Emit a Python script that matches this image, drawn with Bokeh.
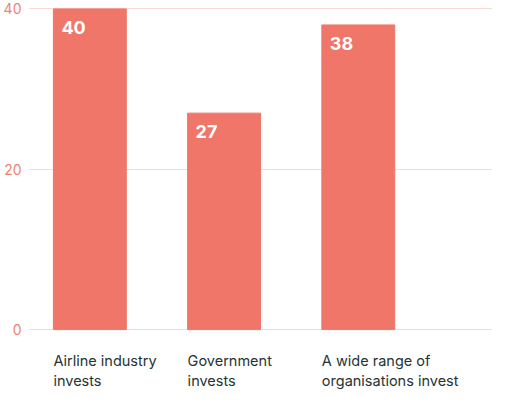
from bokeh.plotting import figure
from bokeh.models import ColumnDataSource, FixedTicker
from bokeh.core.properties import value
from bokeh.embed import file_html
from bokeh.resources import INLINE

# data
categories = ["Airline industry\ninvests", "Government\ninvests",
              "A wide range of\norganisations invest"]
values = [40, 27, 38]
y_ticks = [0, 20, 40]

bar_color = "#ef7669"
bar_w = 0.543
pos = list(range(len(categories)))

source = ColumnDataSource(dict(
    x=pos,
    left=[i - bar_w / 2 for i in pos],
    top=values,
    label=[str(v) for v in values],
    line1=[c.split("\n")[0] for c in categories],
    line2=[c.split("\n")[1] for c in categories],
))

p = figure(width=492, height=390, x_range=(-0.457, 3.0), y_range=(-7.6, 41.05),
           x_axis_type=None, toolbar_location=None, output_backend="svg",
           min_border_left=23, min_border_right=0, min_border_top=0, min_border_bottom=0)
p.outline_line_color = None
p.background_fill_color = "white"
p.border_fill_color = "white"

p.vbar(x="x", top="top", bottom=0, width=bar_w, source=source,
       fill_color=bar_color, line_color=bar_color)

# value labels inside bars
p.text(x="left", y="top", text="label", source=source, x_offset=8, y_offset=12,
       text_color="white", text_font=value("Inter"), text_font_style="bold",
       text_font_size="18px", text_baseline="top", text_align="left")

# category labels under bars, two lines each
cat_style = dict(source=source, text_color="#263332", text_font=value("Inter"),
                 text_font_size="14.5px", text_baseline="alphabetic", text_align="left")
p.text(x="left", y=-3.85, text="line1", **cat_style)
p.text(x="left", y=-6.4, text="line2", **cat_style)

p.xgrid.grid_line_color = None
p.yaxis.ticker = FixedTicker(ticks=y_ticks)
p.yaxis.axis_line_color = None
p.yaxis.major_tick_line_color = None
p.yaxis.minor_tick_line_color = None
p.yaxis.major_tick_out = 0
p.yaxis.major_label_standoff = 7
p.yaxis.major_label_text_color = "#f08274"
p.yaxis.major_label_text_font = "Inter"
p.yaxis.major_label_text_font_size = "14px"
p.ygrid.grid_line_color = "#f8d9d3"
p.ygrid.grid_line_width = 1

open("out.html", "w").write(file_html(p, INLINE))
